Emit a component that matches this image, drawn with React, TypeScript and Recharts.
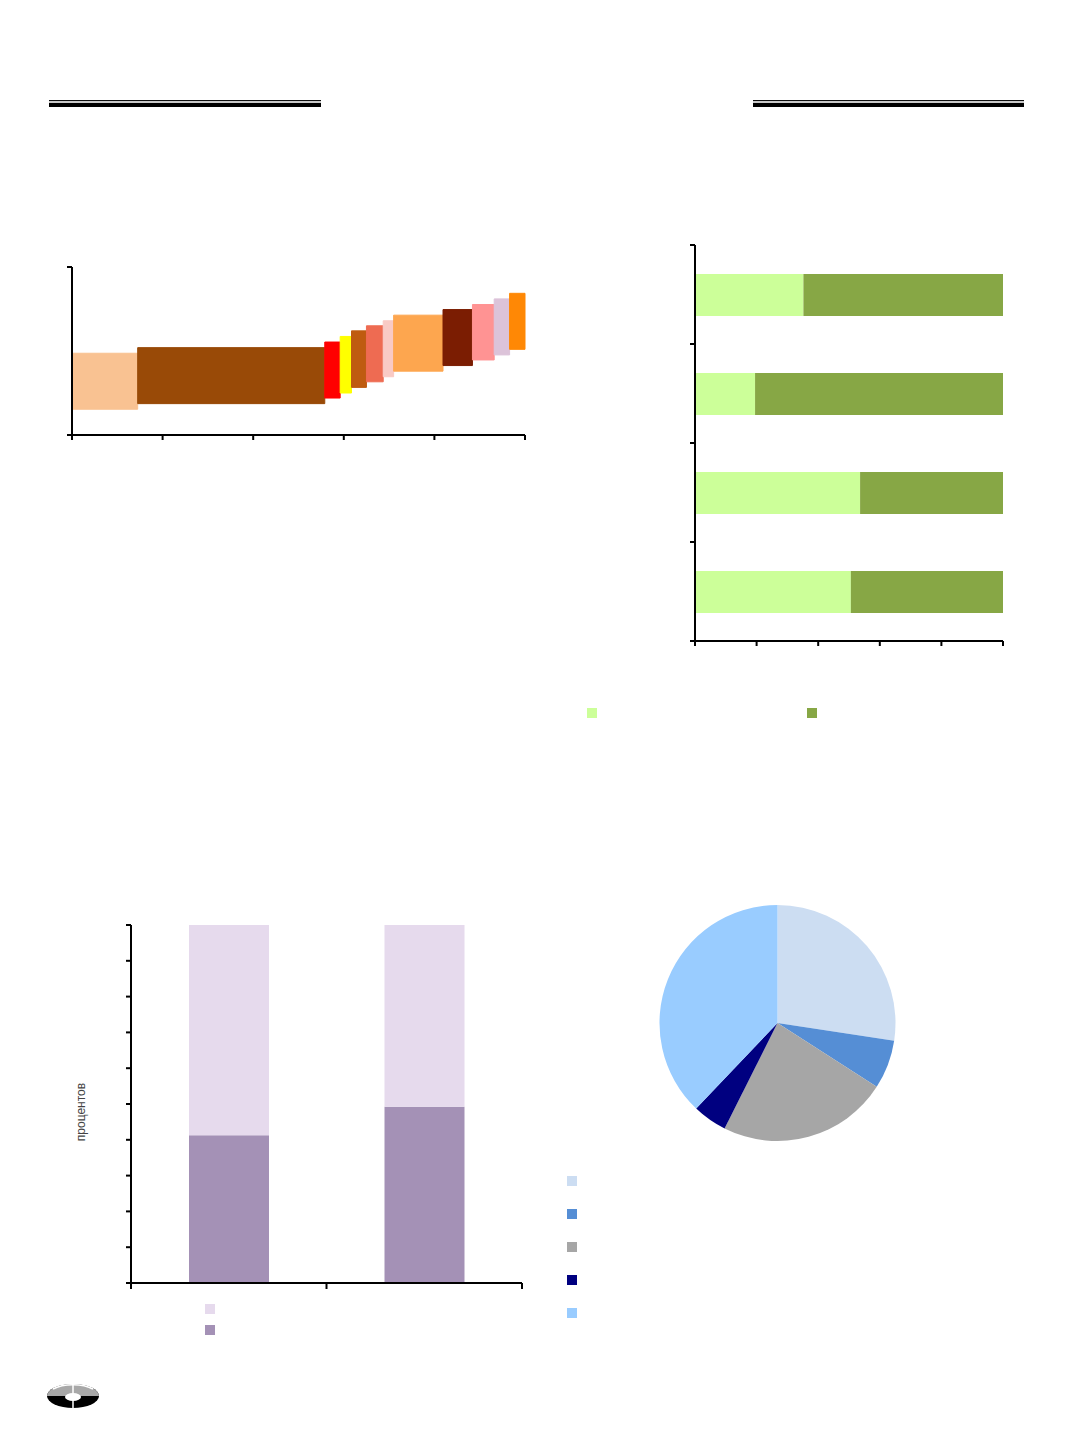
import {
  BarChart,
  Bar,
  ComposedChart,
  Scatter,
  ReferenceArea,
  PieChart,
  Pie,
  Cell,
  XAxis,
  YAxis,
} from "recharts";

// chart 1: floating blocks, x in % of the axis, y in axis units
const blockStart = [0, 14.5, 55.8, 59.2, 61.7, 65.0, 68.7, 71.0, 81.9, 88.4, 93.2, 96.6];
const blockEnd = [14.5, 55.8, 59.2, 61.7, 65.0, 68.7, 71.0, 81.9, 88.4, 93.2, 96.6, 100];
const blockLow = [0.46, 0.56, 0.66, 0.75, 0.85, 0.95, 1.04, 1.14, 1.24, 1.34, 1.43, 1.53];
const blockHigh = [1.46, 1.56, 1.66, 1.76, 1.86, 1.95, 2.04, 2.14, 2.24, 2.33, 2.43, 2.53];
const blockColors = [
  "#F9C292", "#994A07", "#FF0000", "#FFFF00", "#BF5B10", "#EE6B52",
  "#F9CAC5", "#FDA64F", "#7B1D02", "#FF9393", "#DCC3D9", "#FF8805",
];
const xTicks1 = [0, 20, 40, 60, 80, 100];
const yTicks1 = [0, 3];

// chart 2: horizontal 100% bars
const rowNames = ["a", "b", "c", "d"];
const lightShare = [35.2, 19.5, 53.6, 50.6];
const darkShare = [64.8, 80.5, 46.4, 49.4];
const xTicks2 = [0, 20, 40, 60, 80, 100];

// chart 3: two stacked columns, percent
const colNames = ["first", "second"];
const lowerPart = [41.3, 49.2];
const upperPart = [58.7, 50.8];
const yTicks3 = [0, 10, 20, 30, 40, 50, 60, 70, 80, 90, 100];

// chart 4: pie
const sliceValues = [27.4, 6.7, 23.3, 4.7, 37.9];
const sliceColors = ["#CCDDF2", "#558ED5", "#A6A6A6", "#000080", "#99CCFF"];

const blocks = blockStart.map((x0, i) => ({
  x0,
  x1: blockEnd[i],
  y0: blockLow[i],
  y1: blockHigh[i],
  color: blockColors[i],
}));
const rows = rowNames.map((name, i) => ({
  name,
  light: lightShare[i],
  dark: darkShare[i],
}));
const cols = colNames.map((name, i) => ({
  name,
  lower: lowerPart[i],
  upper: upperPart[i],
}));
const slices = sliceValues.map((value, i) => ({ name: `s${i}`, value }));

const axisStyle = { stroke: "#000", strokeWidth: 2 };
const noLabel = () => <g />;

// tick marks between categories (Excel style), no labels
const RowTick = (props: any) => {
  const { x, y, payload, index } = props;
  const off = payload?.offset ?? 0;
  return (
    <g stroke="#000" strokeWidth={2}>
      <line x1={x} x2={x + 5} y1={y - off} y2={y - off} />
      {index === rowNames.length - 1 && (
        <line x1={x} x2={x + 5} y1={y + off} y2={y + off} />
      )}
    </g>
  );
};

const ColTick = (props: any) => {
  const { x, y, payload, index } = props;
  const off = payload?.offset ?? 0;
  return (
    <g stroke="#000" strokeWidth={2}>
      <line x1={x - off} x2={x - off} y1={y - 6} y2={y} />
      {index === colNames.length - 1 && (
        <line x1={x + off} x2={x + off} y1={y - 6} y2={y} />
      )}
    </g>
  );
};

const Square = ({ x, y, color }: { x: number; y: number; color: string }) => (
  <div
    style={{
      position: "absolute",
      left: x,
      top: y,
      width: 10,
      height: 10,
      background: color,
    }}
  />
);

const Rule = ({ x, width }: { x: number; width: number }) => (
  <div style={{ position: "absolute", left: x, top: 100, width }}>
    <div style={{ height: 1, background: "#111" }} />
    <div style={{ height: 2, background: "#c8c8c8" }} />
    <div style={{ height: 4, background: "#000" }} />
  </div>
);

const Logo = () => (
  <svg
    width={56}
    height={30}
    style={{ position: "absolute", left: 45, top: 1382 }}
  >
    <ellipse cx={28} cy={14} rx={26} ry={12} fill="#000" />
    <path d="M2 14 A26 12 0 0 1 54 14 Z" fill="#a8a8a8" />
    <path d="M8 7 A26 12 0 0 1 48 7" stroke="#fff" strokeWidth={1.5} fill="none" />
    <ellipse cx={28} cy={15} rx={8} ry={4} fill="#fff" />
    <line x1={28} y1={2} x2={28} y2={27} stroke="#fff" strokeWidth={1.5} />
  </svg>
);

export default function App() {
  return (
    <div
      style={{
        position: "absolute",
        left: 0,
        top: 0,
        width: 1072,
        height: 1433,
        background: "#fff",
        fontFamily: "'Liberation Sans', Arial, sans-serif",
      }}
    >
      <Rule x={49} width={272} />
      <Rule x={753} width={271} />

      {/* chart 1 */}
      <div style={{ position: "absolute", left: 40, top: 250 }}>
        <ComposedChart
          width={500}
          height={200}
          data={blocks}
          margin={{ top: 17, right: 15, bottom: 0, left: 12 }}
        >
          <XAxis
            type="number"
            scale="linear"
            dataKey="x0"
            domain={[0, 100]}
            ticks={xTicks1}
            height={15}
            tick={noLabel}
            axisLine={axisStyle}
            tickLine={axisStyle}
            tickSize={5}
          />
          <YAxis
            type="number"
            scale="linear"
            dataKey="y0"
            domain={[0, 3]}
            ticks={yTicks1}
            width={20}
            tick={noLabel}
            axisLine={axisStyle}
            tickLine={axisStyle}
            tickSize={5}
          />
          <Scatter data={blocks} shape={noLabel} isAnimationActive={false} />
          {blocks.map((b, i) => (
            <ReferenceArea
              key={i}
              x1={b.x0}
              x2={b.x1}
              y1={b.y0}
              y2={b.y1}
              fill={b.color}
              fillOpacity={1}
              stroke={b.color}
              strokeWidth={1}
            />
          ))}
        </ComposedChart>
      </div>

      {/* chart 2 */}
      <div style={{ position: "absolute", left: 650, top: 230 }}>
        <BarChart
          width={380}
          height={430}
          data={rows}
          layout="vertical"
          barSize={42}
          margin={{ top: 15, right: 27, bottom: 4, left: 44 }}
        >
          <XAxis
            type="number"
            scale="linear"
            domain={[0, 100]}
            ticks={xTicks2}
            height={15}
            tick={noLabel}
            axisLine={axisStyle}
            tickLine={axisStyle}
            tickSize={5}
          />
          <YAxis
            type="category"
            dataKey="name"
            width={1}
            tickSize={5}
            tickMargin={0}
            tickLine={false}
            tick={<RowTick />}
            axisLine={axisStyle}
          />
          <Bar dataKey="light" stackId="s" fill="#CCFF99" isAnimationActive={false} />
          <Bar dataKey="dark" stackId="s" fill="#87A745" isAnimationActive={false} />
        </BarChart>
      </div>
      <Square x={587} y={708} color="#CCFF99" />
      <Square x={807} y={708} color="#87A745" />

      {/* chart 3 */}
      <div style={{ position: "absolute", left: 60, top: 900 }}>
        <BarChart
          width={480}
          height={420}
          data={cols}
          barSize={80}
          margin={{ top: 25, right: 18, bottom: 36, left: 70 }}
        >
          <XAxis
            type="category"
            dataKey="name"
            height={1}
            tickSize={6}
            tickMargin={0}
            tickLine={false}
            tick={<ColTick />}
            axisLine={axisStyle}
          />
          <YAxis
            type="number"
            scale="linear"
            domain={[0, 100]}
            ticks={yTicks3}
            width={1}
            tick={noLabel}
            axisLine={axisStyle}
            tickLine={axisStyle}
            tickSize={5}
          />
          <Bar dataKey="lower" stackId="s" fill="#A491B6" isAnimationActive={false} />
          <Bar dataKey="upper" stackId="s" fill="#E6DAED" isAnimationActive={false} />
        </BarChart>
      </div>
      <div
        style={{
          position: "absolute",
          left: 81,
          top: 1112,
          transform: "translate(-50%, -50%) rotate(-90deg)",
          fontSize: 12,
          color: "#444",
          whiteSpace: "nowrap",
        }}
      >
        процентов
      </div>
      <Square x={205} y={1304} color="#E6DAED" />
      <Square x={205} y={1325} color="#A491B6" />

      {/* chart 4 */}
      <div style={{ position: "absolute", left: 648, top: 898 }}>
        <PieChart width={260} height={250}>
          <Pie
            data={slices}
            dataKey="value"
            cx={124.5}
            cy={120}
            outerRadius={118}
            startAngle={90}
            endAngle={-270}
            stroke="none"
            isAnimationActive={false}
          >
            {slices.map((s, i) => (
              <Cell key={s.name} fill={sliceColors[i]} />
            ))}
          </Pie>
        </PieChart>
      </div>
      {sliceColors.map((c, i) => (
        <Square key={c} x={567} y={1176 + i * 33} color={c} />
      ))}

      <Logo />
    </div>
  );
}
